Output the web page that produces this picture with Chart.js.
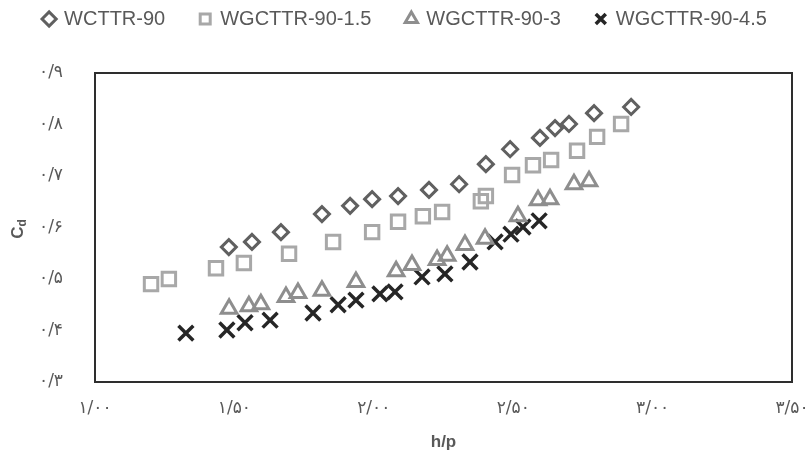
<!DOCTYPE html>
<html>
<head>
<meta charset="utf-8">
<script src="https://cdn.jsdelivr.net/npm/chart.js@4.4.1/dist/chart.umd.min.js"></script>
<style>
html,body{margin:0;padding:0;background:#fff;}
#wrap{width:811px;height:465px;position:relative;}
</style>
</head>
<body>
<div id="wrap"><canvas id="c" width="811" height="465"></canvas></div>
<script>
// ---- data ----
const seriesNames = ['WCTTR-90', 'WGCTTR-90-1.5', 'WGCTTR-90-3', 'WGCTTR-90-4.5'];

const wcttrX = [1.480,1.563,1.667,1.814,1.915,1.994,2.087,2.198,2.306,2.402,2.489,2.596,2.650,2.700,2.790,2.923];
const wcttrY = [0.562,0.572,0.591,0.626,0.642,0.655,0.661,0.673,0.684,0.723,0.752,0.774,0.793,0.801,0.822,0.834];

const g15X = [1.201,1.265,1.434,1.534,1.696,1.854,1.994,2.087,2.176,2.245,2.384,2.402,2.496,2.571,2.636,2.729,2.801,2.887];
const g15Y = [0.490,0.500,0.521,0.531,0.549,0.572,0.591,0.611,0.622,0.630,0.651,0.661,0.702,0.721,0.731,0.749,0.776,0.801];

const g3X = [1.481,1.552,1.595,1.685,1.728,1.814,1.936,2.080,2.137,2.227,2.263,2.327,2.399,2.517,2.589,2.632,2.718,2.772];
const g3Y = [0.442,0.447,0.451,0.465,0.473,0.477,0.494,0.515,0.527,0.537,0.545,0.566,0.578,0.622,0.653,0.655,0.684,0.690];

const g45X = [1.326,1.473,1.538,1.628,1.782,1.872,1.936,2.022,2.076,2.173,2.255,2.345,2.435,2.492,2.535,2.593];
const g45Y = [0.395,0.401,0.415,0.420,0.434,0.450,0.459,0.471,0.475,0.504,0.510,0.533,0.572,0.587,0.601,0.613];

const xTickValues = [1.0, 1.5, 2.0, 2.5, 3.0, 3.5];
const xTickLabels = ['۱/۰۰', '۱/۵۰', '۲/۰۰', '۲/۵۰', '۳/۰۰', '۳/۵۰'];
const yTickValues = [0.3, 0.4, 0.5, 0.6, 0.7, 0.8, 0.9];
const yTickLabels = ['۰/۳', '۰/۴', '۰/۵', '۰/۶', '۰/۷', '۰/۸', '۰/۹'];

const xTitle = 'h/p';
const yTitleMain = 'C';
const yTitleSub = 'd';

function pts(xs, ys){ return xs.map((x,i)=>({x:x, y:ys[i]})); }
function labelFor(values, labels, v){
  for (let i=0;i<values.length;i++){ if (Math.abs(values[i]-v) < 1e-6) return labels[i]; }
  return '';
}

const frame = {
  id: 'frame',
  afterDatasetsDraw(chart){
    const a = chart.chartArea, ctx = chart.ctx;
    ctx.save();
    ctx.strokeStyle = '#2e2e2e';
    ctx.lineWidth = 2;
    ctx.strokeRect(a.left, a.top, a.right - a.left, a.bottom - a.top);
    ctx.restore();
  },
  afterDraw(chart){
    const ctx = chart.ctx;
    ctx.save();
    ctx.translate(18, 229);
    ctx.rotate(-Math.PI/2);
    ctx.fillStyle = '#595959';
    ctx.textBaseline = 'middle';
    ctx.font = 'bold 17px "Liberation Sans", Arial, sans-serif';
    const wC = ctx.measureText(yTitleMain).width;
    ctx.font = 'bold 12px "Liberation Sans", Arial, sans-serif';
    const wd = ctx.measureText(yTitleSub).width;
    const start = -(wC + wd)/2;
    ctx.font = 'bold 17px "Liberation Sans", Arial, sans-serif';
    ctx.textAlign = 'left';
    ctx.fillText(yTitleMain, start, 0);
    ctx.font = 'bold 12px "Liberation Sans", Arial, sans-serif';
    ctx.fillText(yTitleSub, start + wC, 5);
    ctx.restore();
  }
};

const common = { showLine:false, borderWidth:3, backgroundColor:'rgba(0,0,0,0)' };

new Chart(document.getElementById('c'), {
  type: 'scatter',
  data: {
    datasets: [
      Object.assign({}, common, {label: seriesNames[0], data: pts(wcttrX, wcttrY), pointStyle:'rectRot', pointRadius:7.5, pointHoverRadius:7.5, borderColor:'#606060', pointBorderWidth:3}),
      Object.assign({}, common, {label: seriesNames[1], data: pts(g15X, g15Y), pointStyle:'rect', pointRadius:9.5, pointHoverRadius:9.5, borderColor:'#a8a8a8', pointBorderWidth:3}),
      Object.assign({}, common, {label: seriesNames[2], data: pts(g3X, g3Y), pointStyle:'triangle', pointRadius:9, pointHoverRadius:9, borderColor:'#8e8e8e', pointBorderWidth:3}),
      Object.assign({}, common, {label: seriesNames[3], data: pts(g45X, g45Y), pointStyle:'crossRot', pointRadius:10.5, pointHoverRadius:10.5, borderColor:'#262626', pointBorderWidth:3.5})
    ]
  },
  options: {
    responsive: false,
    animation: false,
    layout: { padding: { top: -26, left: 0, right: 0, bottom: 0 } },
    plugins: {
      legend: {
        display: true,
        position: 'top',
        labels: {
          usePointStyle: true,
          boxWidth: 10,
          boxHeight: 10,
          padding: 35,
          color: '#595959',
          font: { family: '"Liberation Sans", Arial, sans-serif', size: 20 }
        }
      },
      tooltip: { enabled: false }
    },
    scales: {
      x: {
        type: 'linear',
        min: 1.0, max: 3.5,
        afterFit(s){ s.height = 83; s.paddingRight = 19; s.paddingLeft = 0; },
        afterBuildTicks(s){ s.ticks = xTickValues.map(v => ({value: v})); },
        grid: { display: false },
        border: { display: false },
        ticks: {
          padding: 8,
          color: '#595959',
          font: { family: '"DejaVu Sans", sans-serif', size: 17 },
          callback: (v) => labelFor(xTickValues, xTickLabels, v),
          maxRotation: 0
        },
        title: {
          display: true, text: xTitle, color: '#595959',
          font: { family: '"Liberation Sans", Arial, sans-serif', size: 17, weight: 'bold' },
          padding: { top: 4, bottom: 12 }
        }
      },
      y: {
        type: 'linear',
        min: 0.3, max: 0.9,
        afterFit(s){ s.width = 95; },
        afterBuildTicks(s){ s.ticks = yTickValues.map(v => ({value: v})); },
        grid: { display: false },
        border: { display: false },
        ticks: {
          padding: 24,
          color: '#595959',
          font: { family: '"DejaVu Sans", sans-serif', size: 17 },
          callback: (v) => labelFor(yTickValues, yTickLabels, v)
        }
      },
      xTop: {
        type: 'linear', position: 'top', display: true,
        afterFit(s){ s.height = 34; s.paddingRight = 0; s.paddingLeft = 0; },
        grid: { display: false }, border: { display: false },
        ticks: { display: false }
      }
    }
  },
  plugins: [frame]
});
</script>
</body>
</html>
